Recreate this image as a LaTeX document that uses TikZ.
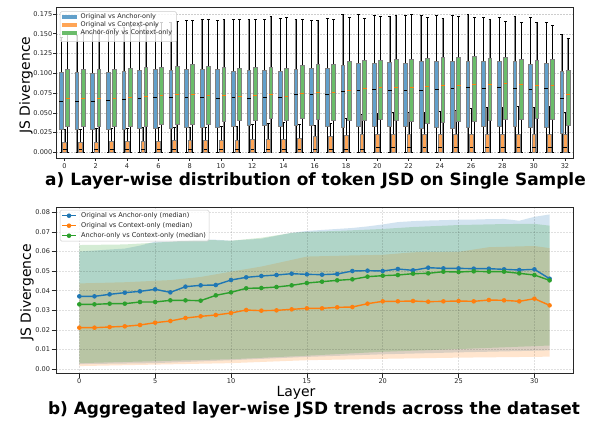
\documentclass[tikz,border=0pt]{standalone}
\usepackage{fontspec}
\setmainfont{DejaVu Sans}
\definecolor{tblue}{HTML}{1F77B4}
\definecolor{torange}{HTML}{FF7F0E}
\definecolor{tgreen}{HTML}{2CA02C}
\definecolor{gridc}{RGB}{205,205,205}
\definecolor{framec}{RGB}{40,40,40}
\tikzset{
  boxb/.style={fill=tblue!70!white, draw=black!50, line width=0.9bp},
  boxg/.style={fill=tgreen!70!white, draw=black!50, line width=0.9bp},
  boxo/.style={fill=torange!70!white, draw=black!50, line width=0.9bp},
  wgray/.style={draw=black!45, line width=1.3bp},
  wblack/.style={draw=black, line width=0.6bp},
  medk/.style={draw=black, line width=0.8bp},
  medo/.style={draw=torange, line width=0.9bp},
  gridline/.style={draw=gridc, line width=0.5bp, dash pattern=on 1.5bp off 1.5bp},
  gridlight/.style={draw=black, draw opacity=0.12, line width=0.5bp, dash pattern=on 1.5bp off 1.5bp},
  frame/.style={draw=framec, line width=1bp},
  tickl/.style={font=\fontsize{6.6}{7}\selectfont, text=black!85, inner sep=0pt},
  tickm/.style={draw=framec, line width=0.6bp},
  lab/.style={font=\fontsize{14}{16}\selectfont, inner sep=0pt},
  ttl/.style={font=\fontsize{17}{19}\selectfont\bfseries, inner sep=0pt},
  legt/.style={font=\fontsize{6.5}{7}\selectfont, anchor=west, inner sep=0pt, text=black!85},
  legbox/.style={draw=black!20, fill=white, fill opacity=0.8, rounded corners=1.5bp, line width=0.5bp},
  mline/.style={line width=1.4bp, line join=round},
  band/.style={fill opacity=0.2},
}
\def\bluelist{(0,304),(1,304),(2,298),(3,293),(4,289),(5,283),(6,292),(7,275),(8,271),(9,270),(10,255),(11,247),(12,243),(13,240),(14,236),(15,238),(16,239),(17,237),(18,228),(19,227),(20,228),(21,222),(22,226),(23,218),(24,220),(25,220),(26,221),(27,221),(28,223),(29,225),(30,223),(31,251)}
\def\greenlist{(0,328),(1,328),(2,326),(3,326),(4,321),(5,321),(6,316),(7,316),(8,317),(9,301),(10,292),(11,280),(12,279),(13,276),(14,271),(15,264),(16,260),(17,256),(18,253),(19,245),(20,242),(21,240),(22,236),(23,235),(24,230),(25,231),(26,229),(27,230),(28,230),(29,235),(30,240),(31,256)}
\def\orangelist{(0,398),(1,398),(2,396),(3,394),(4,390),(5,383),(6,378),(7,369),(8,364),(9,360),(10,354),(11,345),(12,347),(13,346),(14,343),(15,340),(16,340),(17,337),(18,336),(19,326),(20,319),(21,319),(22,318),(23,320),(24,319),(25,318),(26,319),(27,315),(28,316),(29,319),(30,311),(31,331)}
\begin{document}
\begin{tikzpicture}[x=1bp,y=-1bp]
\useasboundingbox[fill=white] (0,0) rectangle (597,421);

%================ TOP PLOT =================
\foreach \k/\t in {0/0.000,1/0.025,2/0.050,3/0.075,4/0.100,5/0.125,6/0.150,7/0.175}{
  \pgfmathsetmacro\yy{152.33-\k*19.7625}
  \draw[gridline] (56,\yy) -- (573.5,\yy);
  \draw[tickm] (53,\yy) -- (56,\yy);
  \node[tickl, anchor=east] (ya\k) at (52.5,\yy) {\t};
}
\foreach \k in {0,2,...,32}{
  \pgfmathsetmacro\xx{64.5+\k*15.64}
  \draw[tickm] (\xx,158.3) -- (\xx,161.3);
  \node[tickl] (xa\k) at (\xx,165.8) {\k};
}
\begin{scope}[shift={(64.5bp,0bp)}, x=15.64bp, y=-0.333333bp]
\foreach \i/\bq/\bb/\bm/\bt/\gq/\gb/\gm/\gt/\oq/\om/\ot in {
0/218/388/305/113/208/380/295/101/427/449/388,
1/218/388/305/106/208/380/295/97/426/449/387,
2/220/388/305/97/209/380/295/89/426/449/386,
3/216/388/302/89/208/380/294/85/425/449/385,
4/214/387/298/82/205/378/291/78/424/449/384,
5/212/386/296/78/201/378/288/73/424/449/383,
6/209/385/292/73/201/373/286/68/423/449/382,
7/210/384/292/68/198/372/283/63/422/449/382,
8/208/383/291/62/194/372/283/60/421/449/381,
9/208/382/291/58/198/372/285/57/421/449/381,
10/208/381/294/60/202/365/286/58/420/447/380,
11/214/380/292/58/206/360/288/58/420/447/378,
12/212/375/294/58/202/360/286/58/419/447/374,
13/212/376/291/58/202/355/284/50/418/447/370,
14/213/378/292/55/205/360/288/52/418/447/367,
15/208/377/284/58/197/355/280/58/414/447/372,
16/205/375/282/62/193/358/277/60/410/447/375,
17/205/380/282/55/192/360/277/58/408/447/370,
18/196/382/275/43/183/360/270/52/406/447/355,
19/190/380/270/43/180/360/266/55/404/447/343,
20/190/380/268/45/180/357/262/48/403/442/340,
21/188/380/270/48/178/360/262/47/403/442/338,
22/190/380/270/45/178/363/262/43/403/442/338,
23/185/385/270/45/175/370/260/52/403/442/337,
24/183/383/267/45/172/367/257/55/403/442/333,
25/185/385/265/45/173/363/257/50/403/442/330,
26/183/382/263/43/170/363/253/52/403/442/325,
27/185/380/265/53/175/360/253/58/403/442/322,
28/183/378/262/52/173/358/250/63/403/442/321,
29/185/380/265/50/177/358/253/68/403/442/320,
30/192/383/267/52/180/355/257/67/403/442/322,
31/190/383/265/67/178/357/257/76/403/442/318,
32/215/400/295/102/210/375/283/115/403/442/338}{
  \pgfmathsetmacro\xb{\i-0.2}
  \pgfmathsetmacro\xg{\i+0.2}
  \pgfmathsetmacro\xo{\i+0.02}
  \draw[wgray] (\xb,\bt) -- (\xb,\bq) (\xb,\bb) -- (\xb,457)
               (\xg,\gt) -- (\xg,\gq) (\xg,\gb) -- (\xg,457)
               (\xo,\ot) -- (\xo,\oq);
  \draw[wblack] (\xb,\bt) -- (\xb,\bq) (\xb,\bb) -- (\xb,457)
               (\xg,\gt) -- (\xg,\gq) (\xg,\gb) -- (\xg,457)
               (\xo,\ot) -- (\xo,\oq)
               (\xb-0.09,\bt) -- (\xb+0.09,\bt) (\xg-0.09,\gt) -- (\xg+0.09,\gt)
               (\xo-0.09,\ot) -- (\xo+0.09,\ot)
               (\xb-0.09,457) -- (\xb+0.09,457) (\xg-0.09,457) -- (\xg+0.09,457);
  \draw[boxb] (\xb-0.12,\bq) rectangle (\xb+0.12,\bb);
  \draw[boxg] (\xg-0.12,\gq) rectangle (\xg+0.12,\gb);
  \draw[boxo] (\xo-0.12,\oq) rectangle (\xo+0.12,457);
  \draw[medk] (\xb-0.12,\bm) -- (\xb+0.12,\bm);
  \draw[medo] (\xg-0.12,\gm) -- (\xg+0.12,\gm);
  \draw[medk] (\xo-0.12,\om) -- (\xo+0.12,\om);
}
\end{scope}
% legend top
\draw[legbox] (60,11.7) rectangle (176.7,41.7);
\fill[tblue!70!white] (62,14.7) rectangle (76.7,18.7);
\fill[torange!70!white] (62,22.7) rectangle (76.7,26.7);
\fill[tgreen!70!white] (62,30.7) rectangle (76.7,34.7);
\node[legt] (la1) at (80.5,16.7) {Original vs Anchor-only};
\node[legt] (la2) at (80.5,24.7) {Original vs Context-only};
\node[legt] (la3) at (80.5,32.7) {Anchor-only vs Context-only};
\draw[frame] (56,7.5) rectangle (573.5,158.3);
\node[lab, rotate=90] (yla) at (26,85) {JS Divergence};
\node[ttl] (ta) at (315.5,181) {a) Layer-wise distribution of token JSD on Single Sample};

%================ BOTTOM PLOT =================
\begin{scope}[shift={(79.3bp,-369bp)}, x=15.17bp, y=1958.75bp]
\fill[tblue, band] (0,0.060) -- (1,0.0605) -- (2,0.061) -- (3,0.0615) -- (4,0.063) -- (5,0.065) -- (6,0.065) -- (7,0.0655) -- (8,0.066) -- (9,0.066) -- (10,0.0655) -- (11,0.066) -- (12,0.0665) -- (13,0.068) -- (14,0.0695) -- (15,0.0705) -- (16,0.071) -- (17,0.0715) -- (18,0.072) -- (19,0.0728) -- (20,0.0738) -- (21,0.075) -- (22,0.0755) -- (23,0.0758) -- (24,0.076) -- (25,0.0762) -- (26,0.0763) -- (27,0.0765) -- (28,0.0766) -- (29,0.0757) -- (30,0.0777) -- (31,0.0789)
  -- (31,0.0095) -- (25,0.0085) -- (20,0.0075) -- (15,0.0062) -- (10,0.0045) -- (5,0.003) -- (0,0.0025) -- cycle;
\fill[torange, band] (0,0.0437) -- (3,0.0443) -- (6,0.0454) -- (8,0.047) -- (10,0.0497) -- (12,0.0523) -- (14,0.0557) -- (15,0.0574) -- (18,0.058) -- (20,0.0583) -- (22,0.0596) -- (25,0.0598) -- (27,0.0622) -- (30,0.0628) -- (31,0.0617)
  -- (31,0.0063) -- (25,0.0058) -- (20,0.0052) -- (15,0.0045) -- (10,0.003) -- (0,0.0015) -- cycle;
\fill[tgreen, band] (0,0.0633) -- (3,0.0636) -- (5,0.0645) -- (8,0.066) -- (10,0.0655) -- (12,0.067) -- (14,0.0695) -- (15,0.070) -- (17,0.0705) -- (20,0.0715) -- (22,0.0725) -- (25,0.0735) -- (28,0.074) -- (30,0.0741) -- (31,0.0732)
  -- (31,0.012) -- (25,0.0102) -- (20,0.0088) -- (15,0.0068) -- (10,0.005) -- (0,0.003) -- cycle;
\end{scope}
\foreach \k/\t in {0/0.00,1/0.01,2/0.02,3/0.03,4/0.04,5/0.05,6/0.06,7/0.07,8/0.08}{
  \pgfmathsetmacro\yy{369-\k*19.5875}
  \draw[gridlight] (56,\yy) -- (573.3,\yy);
  \draw[tickm] (51.7,\yy) -- (56,\yy);
  \node[tickl, anchor=east] (yb\k) at (50.3,\yy) {\t};
}
\foreach \k in {0,5,...,30}{
  \pgfmathsetmacro\xx{79.3+\k*15.17}
  \draw[gridlight] (\xx,207.3) -- (\xx,373.5);
  \draw[tickm] (\xx,373.5) -- (\xx,377.5);
  \node[tickl] (xb\k) at (\xx,381.5) {\k};
}
\begin{scope}[shift={(79.3bp,-195bp)}, x=15.17bp, y=-0.333333bp]
\draw[tblue, mline] (0,304) foreach \p in \bluelist { -- \p };
\foreach \p in \bluelist {\fill[tblue] \p circle (2.3bp);}
\draw[torange, mline] (0,398) foreach \p in \orangelist { -- \p };
\foreach \p in \orangelist {\fill[torange] \p circle (2.3bp);}
\draw[tgreen, mline] (0,328) foreach \p in \greenlist { -- \p };
\foreach \p in \greenlist {\fill[tgreen] \p circle (2.3bp);}
\end{scope}
% legend bottom
\draw[legbox] (60,210) rectangle (209,241);
\draw[tblue, mline] (62,215.7) -- (76,215.7); \fill[tblue] (69,215.7) circle (2.3bp);
\draw[torange, mline] (62,225.7) -- (76,225.7); \fill[torange] (69,225.7) circle (2.3bp);
\draw[tgreen, mline] (62,235.7) -- (76,235.7); \fill[tgreen] (69,235.7) circle (2.3bp);
\node[legt, font=\fontsize{6.6}{7}\selectfont] (lb1) at (81,215.7) {Original vs Anchor-only (median)};
\node[legt, font=\fontsize{6.6}{7}\selectfont] (lb2) at (81,225.7) {Original vs Context-only (median)};
\node[legt, font=\fontsize{6.6}{7}\selectfont] (lb3) at (81,235.7) {Anchor-only vs Context-only (median)};
\draw[frame] (56,207.3) rectangle (573.3,373.5);
\node[lab, rotate=90] (ylb) at (27,292.5) {JS Divergence};
\node[lab] (xlb) at (296,393) {Layer};
\node[ttl] (tb) at (314,409.5) {b) Aggregated layer-wise JSD trends across the dataset};
\end{tikzpicture}
\end{document}
